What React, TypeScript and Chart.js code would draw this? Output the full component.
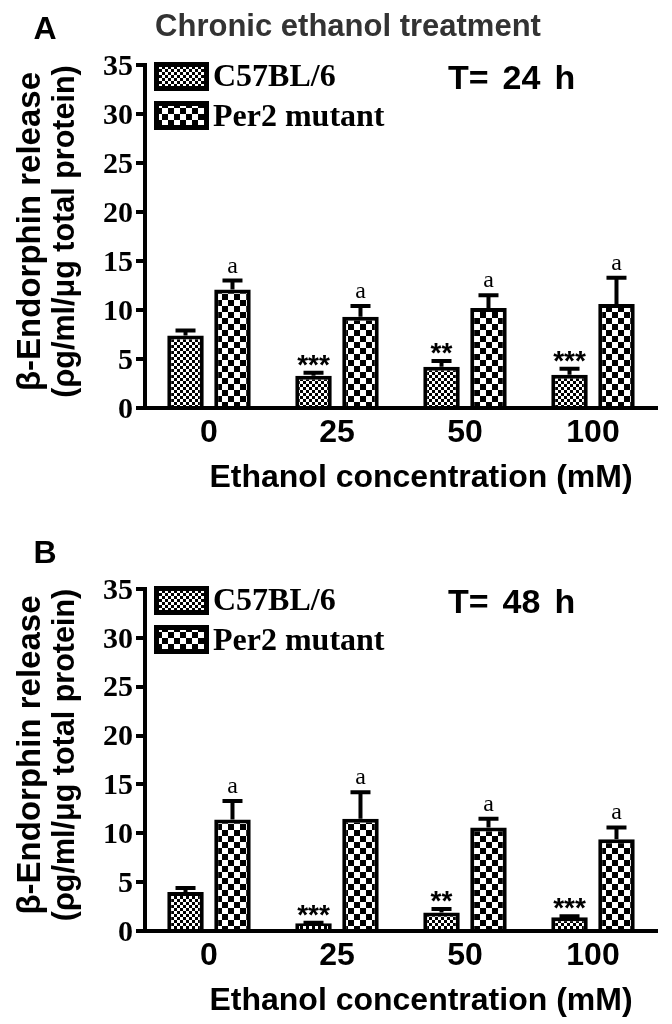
import React, { useEffect, useRef } from "react";
import { Chart, registerables } from "chart.js";

Chart.register(...registerables);

// ---------- data ----------
const categories = ["0", "25", "50", "100"];
const yTickValues = [0, 5, 10, 15, 20, 25, 30, 35];
const seriesNames = ["C57BL/6", "Per2 mutant"];

// Panel A: T = 24 h
const c57_24h = [7.4, 3.3, 4.2, 3.4];
const c57_24hErr = [0.5, 0.3, 0.6, 0.6];
const per2_24h = [12.1, 9.3, 10.2, 10.6];
const per2_24hErr = [0.9, 1.1, 1.3, 2.7];

// Panel B: T = 48 h
const c57_48h = [4.0, 0.8, 1.9, 1.4];
const c57_48hErr = [0.4, 0.05, 0.35, 0.1];
const per2_48h = [11.4, 11.5, 10.6, 9.4];
const per2_48hErr = [1.9, 2.7, 0.9, 1.2];

const c57_24hMarks = ["", "***", "**", "***"];
const c57_48hMarks = ["", "***", "**", "***"];
const per2Marks = ["a", "a", "a", "a"];

const SANS = "'Liberation Sans', Arial, Helvetica, sans-serif";
const SERIF = "'Liberation Serif', 'Times New Roman', serif";

function makePattern(ctx: CanvasRenderingContext2D, cell: number) {
  const c = document.createElement("canvas");
  c.width = cell * 2;
  c.height = cell * 2;
  const g = c.getContext("2d")!;
  g.fillStyle = "#fff";
  g.fillRect(0, 0, cell * 2, cell * 2);
  g.fillStyle = "#000";
  g.fillRect(0, 0, cell, cell);
  g.fillRect(cell, cell, cell, cell);
  return ctx.createPattern(c, "repeat")!;
}

type PanelProps = {
  letter: string;
  timeLabel: string;
  showTitle: boolean;
  c57: number[];
  c57Err: number[];
  c57Marks: string[];
  per2: number[];
  per2Err: number[];
  padTop: number;
  axisH: number;
};

function Panel(p: PanelProps) {
  const ref = useRef<HTMLCanvasElement | null>(null);
  useEffect(() => {
    const canvas = ref.current!;
    const ctx0 = canvas.getContext("2d")!;
    const fine = makePattern(ctx0, 3);
    const coarse = makePattern(ctx0, 6);

    const overlay = {
      id: "overlay",
      afterDraw(chart: any) {
        const ctx: CanvasRenderingContext2D = chart.ctx;
        const xs = chart.scales.x;
        const ys = chart.scales.y;
        const area = chart.chartArea;
        ctx.save();
        ctx.fillStyle = "#000";
        ctx.strokeStyle = "#000";

        // error bars + marks
        const sets = [
          { v: p.c57, e: p.c57Err, m: p.c57Marks, d: 0 },
          { v: p.per2, e: p.per2Err, m: per2Marks, d: 1 },
        ];
        sets.forEach((s) => {
          const meta = chart.getDatasetMeta(s.d);
          s.v.forEach((val, i) => {
            const el = meta.data[i];
            const bx = el.x;
            const yv = ys.getPixelForValue(val);
            const ye = ys.getPixelForValue(val + s.e[i]);
            ctx.lineWidth = 4;
            ctx.beginPath();
            ctx.moveTo(bx, yv);
            ctx.lineTo(bx, ye);
            ctx.moveTo(bx - 10, ye);
            ctx.lineTo(bx + 10, ye);
            ctx.stroke();
            const mark = s.m[i];
            if (mark) {
              ctx.textAlign = "center";
              ctx.textBaseline = "alphabetic";
              if (s.d === 0) {
                ctx.font = `bold 28px ${SANS}`;
                ctx.fillText(mark, bx, ye + 1);
              } else {
                ctx.font = `24px ${SERIF}`;
                ctx.fillText(mark, bx, ye - 8);
              }
            }
          });
        });

        // y tick labels
        ctx.font = `bold 30px ${SERIF}`;
        ctx.textAlign = "right";
        ctx.textBaseline = "middle";
        yTickValues.forEach((t) => {
          ctx.fillText(String(t), area.left - 12, ys.getPixelForValue(t) + 2);
        });

        // x tick labels
        ctx.font = `bold 32px ${SANS}`;
        ctx.textAlign = "center";
        ctx.textBaseline = "alphabetic";
        categories.forEach((c, i) => {
          ctx.fillText(c, xs.getPixelForValue(i), area.bottom + 34);
        });

        // x title
        ctx.font = `bold 32px ${SANS}`;
        ctx.fillText("Ethanol concentration (mM)", 421, area.bottom + 79);

        // y title
        const cy = (area.top + area.bottom) / 2 - 5;
        ctx.save();
        ctx.translate(31, cy);
        ctx.rotate(-Math.PI / 2);
        ctx.textAlign = "center";
        ctx.textBaseline = "middle";
        ctx.font = `bold 33px ${SANS}`;
        ctx.fillText("\u03b2-Endorphin release", 0, 0);
        ctx.font = `bold 30.5px ${SANS}`;
        ctx.fillText("(\u03c1g/ml/\u03bcg total protein)", 0, 35);
        ctx.restore();

        // legend
        const t35 = area.top;
        const boxes = [
          { y: t35 - 3, pat: fine, label: seriesNames[0], base: t35 + 21 },
          { y: t35 + 36, pat: coarse, label: seriesNames[1], base: t35 + 61 },
        ];
        boxes.forEach((b) => {
          ctx.fillStyle = "#000";
          ctx.fillRect(154, b.y, 55, 29);
          ctx.fillStyle = b.pat;
          ctx.fillRect(159, b.y + 5, 45, 19);
          ctx.fillStyle = "#000";
          ctx.font = `bold 32px ${SERIF}`;
          ctx.textAlign = "left";
          ctx.textBaseline = "alphabetic";
          ctx.fillText(b.label, 213, b.base);
        });

        // time label (slightly wide spacing as in the figure)
        ctx.font = `bold 34px ${SANS}`;
        ctx.textAlign = "left";
        const parts = p.timeLabel.split(" ");
        let tx = 448;
        parts.forEach((part) => {
          ctx.fillText(part, tx, t35 + 24);
          tx += ctx.measureText(part).width + 14;
        });

        // panel letter
        ctx.font = `bold 32px ${SANS}`;
        ctx.textAlign = "center";
        ctx.fillText(p.letter, 45, t35 - 26);

        if (p.showTitle) {
          ctx.fillStyle = "#333";
          ctx.font = `bold 31px ${SANS}`;
          ctx.fillText("Chronic ethanol treatment", 348, t35 - 29);
        }
        ctx.restore();
      },
    };

    const chart = new Chart(canvas, {
      type: "bar",
      data: {
        labels: categories,
        datasets: [
          {
            label: seriesNames[0],
            data: p.c57,
            backgroundColor: fine,
            borderColor: "#000",
            borderWidth: 4,
            categoryPercentage: 0.734,
            barPercentage: 0.777,
          },
          {
            label: seriesNames[1],
            data: p.per2,
            backgroundColor: coarse,
            borderColor: "#000",
            borderWidth: 4,
            categoryPercentage: 0.734,
            barPercentage: 0.777,
          },
        ],
      },
      options: {
        responsive: false,
        animation: false,
        devicePixelRatio: 1,
        layout: { padding: { top: p.padTop, right: 15, left: 0, bottom: 0 } },
        plugins: {
          legend: { display: false },
          tooltip: { enabled: false },
          title: { display: false },
        },
        scales: {
          x: {
            type: "category",
            grid: { display: false },
            border: { display: true, color: "#000", width: 4 },
            ticks: { display: false },
            afterFit: (s: any) => {
              s.height = p.axisH;
            },
          },
          y: {
            min: 0,
            max: 35,
            ticks: { display: false, stepSize: 5 },
            grid: {
              display: true,
              drawOnChartArea: false,
              drawTicks: true,
              tickLength: 9,
              tickWidth: 4,
              tickColor: "#000",
              lineWidth: 4,
              color: "#000",
            },
            border: { display: true, color: "#000", width: 4 },
            afterFit: (s: any) => {
              s.width = 145;
            },
          },
        },
      },
      plugins: [overlay],
    } as any);
    return () => chart.destroy();
  }, []);
  return <canvas ref={ref} width={672} height={512} style={{ display: "block", width: 672, height: 512 }} />;
}

export default function App() {
  return (
    <div style={{ position: "fixed", left: 0, top: 0, width: 672, height: 1024, background: "#fff" }}>
      <Panel
        letter="A"
        timeLabel="T= 24 h"
        showTitle={true}
        c57={c57_24h}
        c57Err={c57_24hErr}
        c57Marks={c57_24hMarks}
        per2={per2_24h}
        per2Err={per2_24hErr}
        padTop={65}
        axisH={104}
      />
      <Panel
        letter="B"
        timeLabel="T= 48 h"
        showTitle={false}
        c57={c57_48h}
        c57Err={c57_48hErr}
        c57Marks={c57_48hMarks}
        per2={per2_48h}
        per2Err={per2_48hErr}
        padTop={77}
        axisH={93}
      />
    </div>
  );
}
